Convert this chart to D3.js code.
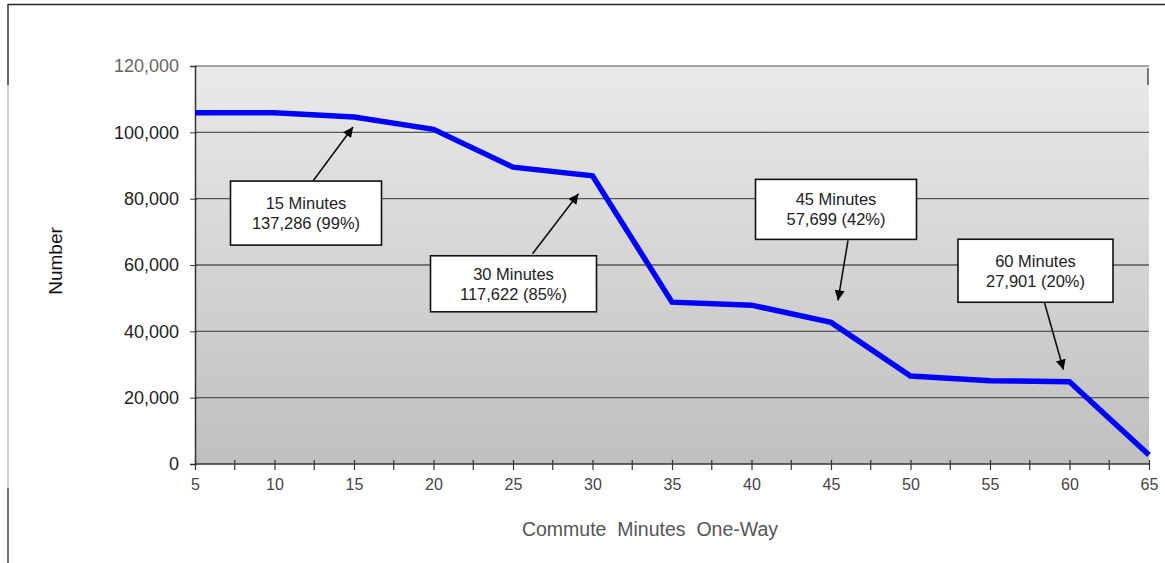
<!DOCTYPE html>
<html>
<head>
<meta charset="utf-8">
<script src="https://cdn.jsdelivr.net/npm/d3@7"></script>
<style>
  html, body { margin: 0; padding: 0; background: #fff; }
  svg { display: block; font-family: "Liberation Sans", Arial, sans-serif; }
</style>
</head>
<body>
<svg id="chart" width="1165" height="563"></svg>
<script>
// ---- data ----
const minutes = [5, 10, 15, 20, 25, 30, 35, 40, 45, 50, 55, 60, 65];
const commuters = [105900, 105900, 104600, 100900, 89500, 86900, 48800, 47900, 42700, 26500, 25100, 24800, 2700];
const yTicks = [0, 20000, 40000, 60000, 80000, 100000, 120000];
const xTicks = [5, 10, 15, 20, 25, 30, 35, 40, 45, 50, 55, 60, 65];
const annoMinutes = [15, 30, 45, 60];
const annoTitles = ["15 Minutes", "30 Minutes", "45 Minutes", "60 Minutes"];
const annoCounts = ["137,286", "117,622", "57,699", "27,901"];
const annoPcts = ["(99%)", "(85%)", "(42%)", "(20%)"];
const xTitle = "Commute  Minutes  One-Way";
const yTitle = "Number";

// ---- layout ----
const svg = d3.select("#chart");
const L = 195, R = 1149, T = 66, B = 464;
const x = d3.scaleLinear().domain([5, 65]).range([L, R]);
const y = d3.scaleLinear().domain([0, 120000]).range([B, T]);
const FONT = "'Liberation Sans', Arial, sans-serif";

// outer frame
svg.append("line").attr("x1", 8).attr("x2", 1165).attr("y1", 4.5).attr("y2", 4.5)
  .attr("stroke", "#222").attr("stroke-width", 1.5);
svg.append("line").attr("x1", 8).attr("x2", 8).attr("y1", 4).attr("y2", 563)
  .attr("stroke", "#999").attr("stroke-width", 1);
svg.append("line").attr("x1", 8).attr("x2", 8).attr("y1", 4).attr("y2", 85)
  .attr("stroke", "#222").attr("stroke-width", 1.2);
svg.append("line").attr("x1", 8).attr("x2", 8).attr("y1", 488).attr("y2", 563)
  .attr("stroke", "#333").attr("stroke-width", 1.2);

// plot background gradient
const defs = svg.append("defs");
const grad = defs.append("linearGradient").attr("id", "bg")
  .attr("x1", 0).attr("y1", 0).attr("x2", 0).attr("y2", 1);
grad.append("stop").attr("offset", "0%").attr("stop-color", "#eaeaea");
grad.append("stop").attr("offset", "100%").attr("stop-color", "#bfbfbf");
svg.append("rect").attr("x", L).attr("y", T).attr("width", R - L).attr("height", B - T)
  .attr("fill", "url(#bg)");

// arrow marker
defs.append("marker").attr("id", "arrow").attr("viewBox", "0 0 10 10")
  .attr("refX", 10).attr("refY", 5).attr("markerWidth", 12).attr("markerHeight", 10)
  .attr("markerUnits", "userSpaceOnUse").attr("orient", "auto")
  .append("path").attr("d", "M0,0 L10,5 L0,10 Z").attr("fill", "#000");

// gridlines
svg.append("g").selectAll("line").data(yTicks.filter(d => d > 0)).join("line")
  .attr("x1", L).attr("x2", R)
  .attr("y1", d => y(d)).attr("y2", d => y(d))
  .attr("stroke", d => d === 120000 ? "#8a8a8a" : "#555")
  .attr("stroke-width", d => d === 120000 ? 1.5 : 1.3);
// small mark at top-right corner
svg.append("line").attr("x1", R - 1).attr("x2", R - 1).attr("y1", T + 2).attr("y2", T + 19)
  .attr("stroke", "#555").attr("stroke-width", 1.5);

// y axis
const yAxis = d3.axisLeft(y).tickValues(yTicks).tickSize(5)
  .tickFormat(d3.format(","));
const gy = svg.append("g").attr("transform", `translate(${L},0)`).call(yAxis);
gy.attr("font-size", null).attr("font-family", null);
gy.select(".domain").attr("stroke", "#333").attr("stroke-width", 1.5);
gy.selectAll(".tick line").attr("stroke", "#333").attr("x2", 2).attr("x1", -5);
gy.selectAll(".tick text").attr("x", -16).style("font-size", "18px")
  .style("font-family", FONT)
  .attr("fill", d => d === 120000 ? "#666" : "#222");

// x axis with minor ticks
const minorTicks = d3.range(7.5, 65, 5);
svg.append("g").selectAll("line").data(minorTicks).join("line")
  .attr("x1", d => x(d)).attr("x2", d => x(d)).attr("y1", B - 4).attr("y2", B + 6)
  .attr("stroke", "#333").attr("stroke-width", 1.2);
const xAxis = d3.axisBottom(x).tickValues(xTicks).tickSize(6).tickFormat(d3.format("d"));
const gx = svg.append("g").attr("transform", `translate(0,${B})`).call(xAxis);
gx.attr("font-size", null).attr("font-family", null);
gx.select(".domain").attr("stroke", "#333").attr("stroke-width", 1.5).attr("d", `M${L},0H${R}`);
gx.selectAll(".tick line").attr("stroke", "#333").attr("stroke-width", 1.2).attr("y1", -4).attr("y2", 6);
gx.selectAll(".tick text").attr("y", 15).style("font-size", "16px")
  .style("font-family", FONT).attr("fill", "#444");

// axis titles
svg.append("text").attr("x", 650).attr("y", 536).attr("text-anchor", "middle")
  .style("font-size", "19.5px").style("font-family", FONT).attr("fill", "#555")
  .style("white-space", "pre").attr("xml:space", "preserve").text(xTitle);
svg.append("text").attr("transform", "translate(62,261) rotate(-90)")
  .attr("text-anchor", "middle").style("font-size", "19px").style("font-family", FONT)
  .attr("fill", "#111").text(yTitle);

// the line
const line = d3.line().x((d, i) => x(minutes[i])).y(d => y(d));
svg.append("path").datum(commuters).attr("d", line)
  .attr("fill", "none").attr("stroke", "#0000ff").attr("stroke-width", 5.5)
  .attr("stroke-linejoin", "miter").attr("stroke-miterlimit", 3);

// annotations: box centre offset and arrow geometry relative to anchor data point (pixels)
const valueAt = m => commuters[minutes.indexOf(m)];
const annoLayout = [
  { bx: -48, by: 96, w: 151, h: 64, tail: [-41, 64], tip: [-1, 10] },
  { bx: -79, by: 108, w: 166, h: 56, tail: [-60, 78], tip: [-14, 18] },
  { bx: 5, by: -113, w: 161, h: 60, tail: [17, -82], tip: [7, -22] },
  { bx: -34, by: -111, w: 155, h: 63, tail: [-25, -79], tip: [-6, -12] }
];
const ag = svg.append("g");
annoMinutes.forEach((m, i) => {
  const px = x(m), py = y(valueAt(m));
  const lay = annoLayout[i];
  const cx = px + lay.bx, cy = py + lay.by;
  ag.append("line")
    .attr("x1", px + lay.tail[0]).attr("y1", py + lay.tail[1])
    .attr("x2", px + lay.tip[0]).attr("y2", py + lay.tip[1])
    .attr("stroke", "#111").attr("stroke-width", 1.6).attr("marker-end", "url(#arrow)");
  ag.append("rect").attr("x", cx - lay.w / 2).attr("y", cy - lay.h / 2)
    .attr("width", lay.w).attr("height", lay.h)
    .attr("fill", "#fff").attr("stroke", "#111").attr("stroke-width", 1.6);
  const t = ag.append("text").attr("text-anchor", "middle")
    .style("font-size", "16.5px").style("font-family", FONT).attr("fill", "#222");
  t.append("tspan").attr("x", cx).attr("y", cy - 4).text(annoTitles[i]);
  t.append("tspan").attr("x", cx).attr("y", cy + 16).text(annoCounts[i] + " " + annoPcts[i]);
});
</script>
</body>
</html>
